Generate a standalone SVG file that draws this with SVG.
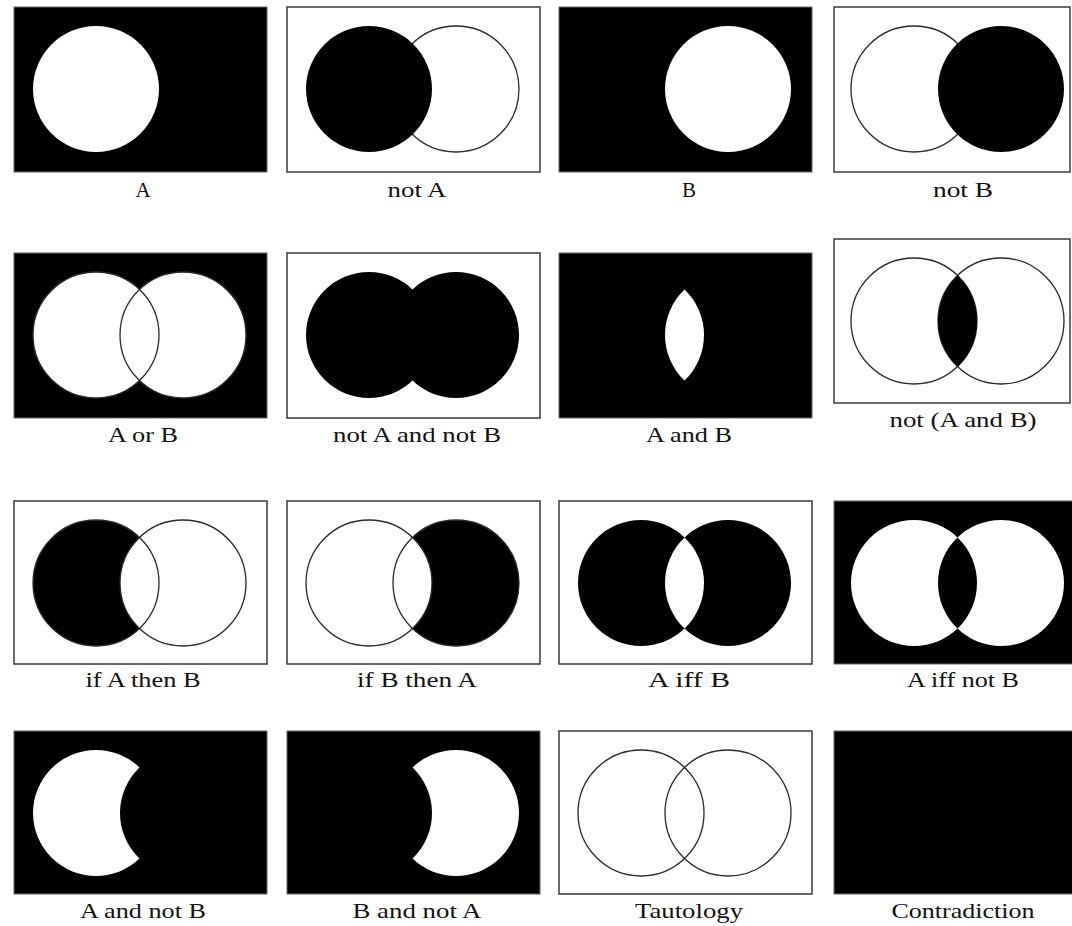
<svg xmlns="http://www.w3.org/2000/svg" xmlns:xlink="http://www.w3.org/1999/xlink" width="1072" height="926" viewBox="0 0 1072 926">
<style>
.bg{fill:#fff}
.blk{fill:#000;stroke:#666;stroke-width:1}
.wht{fill:#fff;stroke:#3a3a3a;stroke-width:1.5}
.wf{fill:#fff;stroke:none}
.bf{fill:#000;stroke:none}
.ol{fill:none;stroke:#2a2a2a;stroke-width:1.3}
.wo{fill:#fff;stroke:#2a2a2a;stroke-width:1.3}
.lbl{font-family:"Liberation Serif","Times New Roman",serif;font-size:21px;text-anchor:middle;fill:#111}
</style>
<defs>
<circle id="cA" cx="82" cy="82" r="63"/>
<circle id="cB" cx="169" cy="82" r="63"/>
<path id="lens" d="M125.5,36.43 A63,63 0 0 1 125.5,127.57 A63,63 0 0 1 125.5,36.43Z"/>
</defs>
<rect class="bg" x="0" y="0" width="1072" height="926"/>

<!-- Row 1 -->
<g id="p-A" transform="translate(14,7)">
<rect class="blk" x="0" y="0" width="253" height="165"/>
<use href="#cA" class="wf"/>
<text class="lbl" x="129" y="190">A</text>
</g>
<g id="p-notA" transform="translate(287,7)">
<rect class="wht" x="0" y="0" width="253" height="165"/>
<use href="#cB" class="wo"/>
<use href="#cA" class="bf"/>
<text class="lbl" x="130" y="190" textLength="59" lengthAdjust="spacingAndGlyphs">not A</text>
</g>
<g id="p-B" transform="translate(559,7)">
<rect class="blk" x="0" y="0" width="253" height="165"/>
<use href="#cB" class="wf"/>
<text class="lbl" x="130" y="190">B</text>
</g>
<g id="p-notB" transform="translate(834,7)">
<rect class="wht" x="0" y="0" width="236" height="165"/>
<g transform="translate(-2,0)">
<use href="#cA" class="wo"/>
<use href="#cB" class="bf"/>
</g>
<text class="lbl" x="129" y="190" textLength="60" lengthAdjust="spacingAndGlyphs">not B</text>
</g>

<!-- Row 2 -->
<g id="p-AorB" transform="translate(14,253)">
<rect class="blk" x="0" y="0" width="253" height="165"/>
<use href="#cA" class="wf"/>
<use href="#cB" class="wf"/>
<use href="#cA" class="ol"/>
<use href="#cB" class="ol"/>
<text class="lbl" x="129" y="189" textLength="70" lengthAdjust="spacingAndGlyphs">A or B</text>
</g>
<g id="p-notAandnotB" transform="translate(287,253)">
<rect class="wht" x="0" y="0" width="253" height="165"/>
<use href="#cA" class="bf"/>
<use href="#cB" class="bf"/>
<text class="lbl" x="130" y="189" textLength="168" lengthAdjust="spacingAndGlyphs">not A and not B</text>
</g>
<g id="p-AandB" transform="translate(559,253)">
<rect class="blk" x="0" y="0" width="253" height="165"/>
<use href="#lens" class="wf"/>
<text class="lbl" x="130" y="189" textLength="86" lengthAdjust="spacingAndGlyphs">A and B</text>
</g>
<g id="p-notAandB" transform="translate(834,239)">
<rect class="wht" x="0" y="0" width="236" height="164"/>
<g transform="translate(-2,0)">
<use href="#cA" class="ol"/>
<use href="#cB" class="ol"/>
<use href="#lens" class="bf"/>
</g>
<text class="lbl" x="129" y="188" textLength="147" lengthAdjust="spacingAndGlyphs">not (A and B)</text>
</g>

<!-- Row 3 -->
<g id="p-ifAthenB" transform="translate(14,501)">
<rect class="wht" x="0" y="0" width="253" height="163"/>
<use href="#cA" class="bf"/>
<use href="#cB" class="wo"/>
<use href="#cA" class="ol"/>
<text class="lbl" x="129" y="186" textLength="115" lengthAdjust="spacingAndGlyphs">if A then B</text>
</g>
<g id="p-ifBthenA" transform="translate(287,501)">
<rect class="wht" x="0" y="0" width="253" height="163"/>
<use href="#cB" class="bf"/>
<use href="#cA" class="wo"/>
<use href="#cB" class="ol"/>
<text class="lbl" x="130" y="186" textLength="120" lengthAdjust="spacingAndGlyphs">if B then A</text>
</g>
<g id="p-AiffB" transform="translate(559,501)">
<rect class="wht" x="0" y="0" width="253" height="163"/>
<use href="#cA" class="bf"/>
<use href="#cB" class="bf"/>
<use href="#lens" class="wf"/>
<text class="lbl" x="130" y="186" textLength="82" lengthAdjust="spacingAndGlyphs">A iff B</text>
</g>
<g id="p-AiffnotB" transform="translate(834,501)">
<rect class="blk" x="0" y="0" width="240" height="163"/>
<g transform="translate(-2,0)">
<use href="#cA" class="wf"/>
<use href="#cB" class="wf"/>
<use href="#lens" class="bf"/>
</g>
<text class="lbl" x="129" y="186" textLength="112" lengthAdjust="spacingAndGlyphs">A iff not B</text>
</g>

<!-- Row 4 -->
<g id="p-AandnotB" transform="translate(14,731)">
<rect class="blk" x="0" y="0" width="253" height="163"/>
<use href="#cA" class="wf"/>
<use href="#cB" class="bf"/>
<text class="lbl" x="129" y="187" textLength="126" lengthAdjust="spacingAndGlyphs">A and not B</text>
</g>
<g id="p-BandnotA" transform="translate(287,731)">
<rect class="blk" x="0" y="0" width="253" height="163"/>
<use href="#cB" class="wf"/>
<use href="#cA" class="bf"/>
<text class="lbl" x="130" y="187" textLength="129" lengthAdjust="spacingAndGlyphs">B and not A</text>
</g>
<g id="p-Tautology" transform="translate(559,731)">
<rect class="wht" x="0" y="0" width="253" height="163"/>
<use href="#cA" class="ol"/>
<use href="#cB" class="ol"/>
<text class="lbl" x="130" y="187" textLength="108" lengthAdjust="spacingAndGlyphs">Tautology</text>
</g>
<g id="p-Contradiction" transform="translate(834,731)">
<rect class="blk" x="0" y="0" width="240" height="163"/>
<text class="lbl" x="129" y="187" textLength="143" lengthAdjust="spacingAndGlyphs">Contradiction</text>
</g>

<g id="connectors"/>
</svg>
